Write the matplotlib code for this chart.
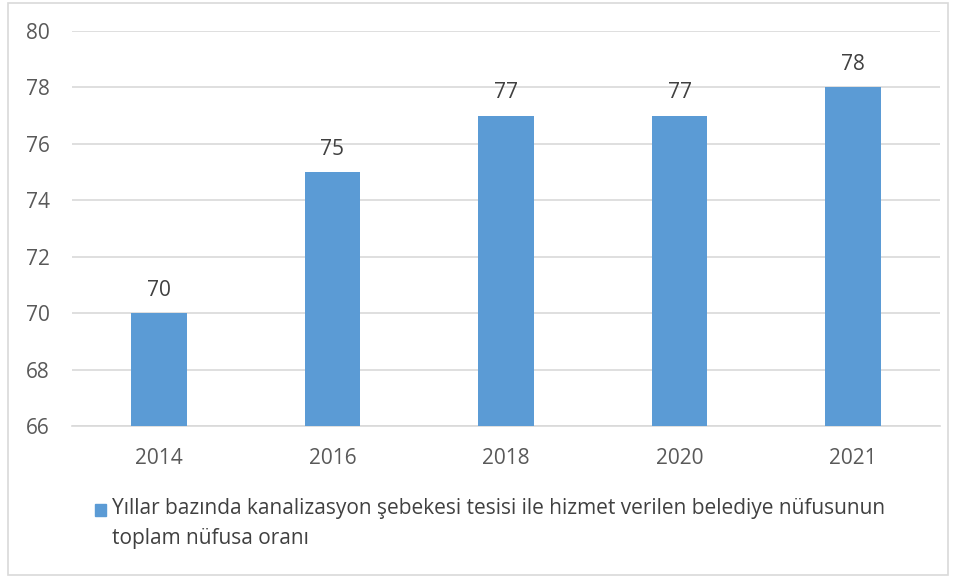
import matplotlib.pyplot as plt
from matplotlib.patches import Rectangle

years = ["2014", "2016", "2018", "2020", "2021"]
values = [70, 75, 77, 77, 78]
series_name = "Yıllar bazında kanalizasyon şebekesi tesisi ile hizmet verilen belediye nüfusunun\ntoplam nüfusa oranı"

plt.rcParams['font.family'] = ['Open Sans', 'DejaVu Sans']
blue = '#5B9BD5'
txt = '#404040'

fig = plt.figure(figsize=(9.57, 5.78), dpi=100)
ax = fig.add_axes([72/957, 1-426/578, 868/957, 395/578])

x = list(range(len(years)))
bars = ax.bar(x, values, width=0.32, color=blue, zorder=3)
for xi, v in zip(x, values):
    ax.annotate(str(v), (xi, v), xytext=(0, 9), textcoords='offset points',
                ha='center', va='bottom', fontsize=15, color=txt)

ax.set_ylim(66, 80)
ax.set_yticks(range(66, 81, 2))
ax.set_xlim(-0.5, len(years) - 0.5)
ax.set_xticks(x)
ax.set_xticklabels(years)
ax.yaxis.grid(True, color='#D9D9D9', linewidth=1.2, zorder=0)
for s in ['top', 'right', 'left']:
    ax.spines[s].set_visible(False)
ax.spines['bottom'].set_color('#D9D9D9')
ax.spines['bottom'].set_linewidth(1.2)
ax.tick_params(axis='both', length=0, labelsize=15, labelcolor='#595959')
ax.tick_params(axis='x', pad=16)
ax.tick_params(axis='y', pad=16)

# legend below the plot
fig.patches.append(Rectangle((95/957, 1-516/578), 11/957, 12/578,
                             transform=fig.transFigure, color=blue))
fig.text(112/957, 1-498/578, series_name, ha='left', va='top', fontsize=15,
         color=txt, linespacing=1.58, transform=fig.transFigure)

# chart border
fig.patches.append(Rectangle((8/957, 3/578), 940/957, 572/578, transform=fig.transFigure,
                             fill=False, edgecolor='#D9D9D9', linewidth=1.2))

fig.savefig('out.png', dpi=100)
